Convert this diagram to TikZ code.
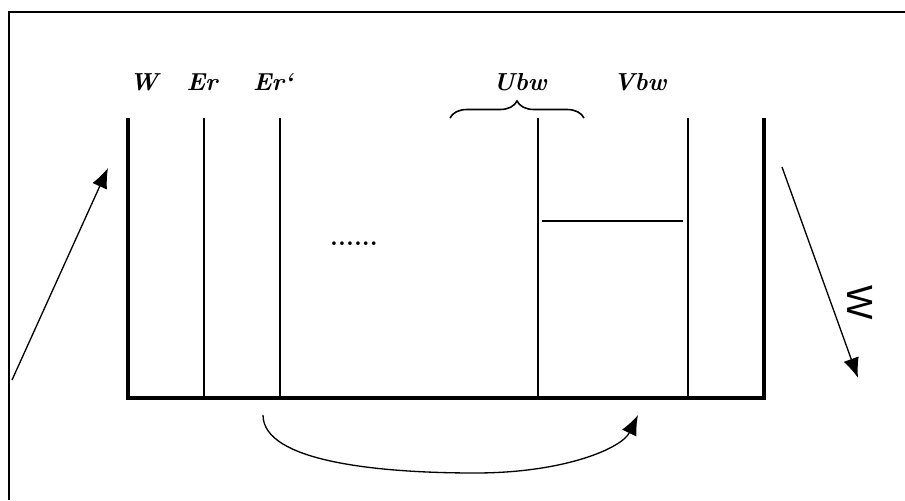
\documentclass[tikz,border=0pt]{standalone}
\usepackage{fontspec}
\newfontfamily\wfont{Liberation Sans}
\usetikzlibrary{arrows.meta,decorations.pathreplacing}
\tikzstyle{lbl} = [font=\fontsize{14}{17}\selectfont\bfseries\itshape, inner sep=1pt]
\tikzstyle{wall} = [draw, line width=2pt]
\tikzstyle{sep} = [draw, line width=0.8pt]
\tikzstyle{line} = [draw, line width=0.75pt, -{Latex[length=4mm,width=3.2mm]}]

\begin{document}
\begin{tikzpicture}[x=0.02cm, y=-0.02cm]
    \useasboundingbox (0,0) rectangle (905,500);
    % Frame
    \draw [line width=1.3pt] (9,500) -- (9,12) -- (905,12);
    % Place nodes
    \node [lbl] (w) at (144,82) {W};
    \node [lbl, right of=w, node distance=1.16cm] (er) {Er};
    \node [lbl, right of=er, node distance=1.42cm] (er2) {Er‘};
    \node [lbl] (ubw) at (520,82) {Ubw};
    \node [lbl, right of=ubw, node distance=2.4cm] (vbw) {Vbw};
    \node [font=\Large\bfseries] (dots) at (354,244) {......};
    \node [font=\wfont\huge, rotate=-90] (wout) at (860,303) {W};
    % Draw container
    \path [wall] (128,118) -- (128,398) -- (764,398) -- (764,118);
    \foreach \x in {204,280,538,688}
        \path [sep] (\x,118) -- (\x,398);
    \path [sep] (542,221) -- (683,221);
    \draw [line width=0.9pt, decorate, decoration={brace, amplitude=0.34cm}]
        (450,118) -- (584,118);
    % Draw edges
    \coordinate (inL) at (12,380);
    \coordinate (inT) at (108,168);
    \coordinate (outT) at (782,167);
    \coordinate (outB) at (858,378);
    \coordinate (mvA) at (263,415);
    \coordinate (mvM) at (475,473);
    \coordinate (mvB) at (638,415);
    \path [line] (inL) -- (inT);
    \path [line] (outT) -- (outB);
    \path [line] (mvA) .. controls (263,462) and (380,473) .. (mvM)
        .. controls (565,473) and (622,448) .. (mvB);
\end{tikzpicture}
\end{document}
